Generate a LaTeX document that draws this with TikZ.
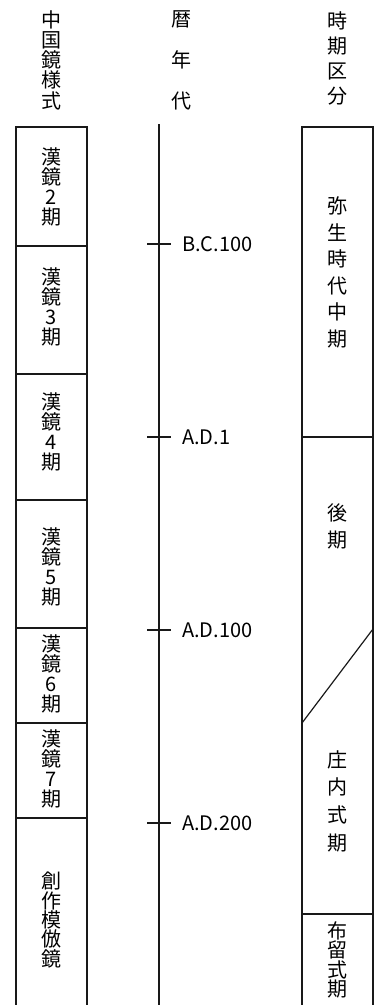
\documentclass[tikz,border=0pt]{standalone}
\usepackage{fontspec}
\newfontfamily\cjk{Noto Sans CJK JP}
\begin{document}
\begin{tikzpicture}[x=1pt,y=-1pt,
  frame/.style={line width=1.2pt, draw=black!90},
  vtext/.style={inner sep=0pt, align=center, text=black, font=\cjk\fontsize{20}{#1}\selectfont},
  yearlabel/.style={inner sep=0pt, anchor=west, text=black, font=\cjk\fontsize{20}{24}\selectfont}]
\useasboundingbox (0,0) rectangle (376,1005);
% left column
\coordinate (L0) at (16,127);
\coordinate (L1) at (87,127);
\draw[frame] (16,1005) -- (L0) -- (L1) -- (87,1005);
\foreach \yy in {246,374,500,628,723,818}{\draw[frame] (16,\yy) -- (87,\yy);}
% timeline
\coordinate (T0) at (159,124);
\coordinate (T1) at (159,1005);
\draw[frame] (T0) -- (T1);
\foreach \yy/\lab/\nm in {244/B.C.100/bc, 437/A.D.1/ad1, 630/A.D.100/ad100, 823/A.D.200/ad200}{
  \draw[frame] (147,\yy) -- (171,\yy);
  \node[yearlabel] (\nm) at (182,\yy) {\lab};
}
% right column
\draw[frame] (302,1005) -- (302,127) -- (373,127) -- (373,1005);
\draw[frame] (302,437) -- (373,437);
\draw[frame] (373,629) -- (302,723);
\draw[frame] (302,914) -- (373,914);
% headers
\node[vtext=20.25] (h1) at (51.5,60) {中\\国\\鏡\\様\\式};
\node[vtext=41] (h2) at (181,60) {暦\\年\\代};
\node[vtext=25] (h3) at (337.5,58) {時\\期\\区\\分};
% left boxes
\node[vtext=20] (k2) at (51.5,187) {漢\\鏡\\2\\期};
\node[vtext=20] (k3) at (51.5,307) {漢\\鏡\\3\\期};
\node[vtext=20] (k4) at (51.5,432) {漢\\鏡\\4\\期};
\node[vtext=20] (k5) at (51.5,567) {漢\\鏡\\5\\期};
\node[vtext=20] (k6) at (51.5,674) {漢\\鏡\\6\\期};
\node[vtext=20] (k7) at (51.5,769) {漢\\鏡\\7\\期};
\node[vtext=19.3] (ks) at (51.5,920) {創\\作\\模\\倣\\鏡};
% right boxes
\node[vtext=26.5] (r1) at (337.5,272.5) {弥\\生\\時\\代\\中\\期};
\node[vtext=27] (r2) at (337.5,526) {後\\期};
\node[vtext=27.7] (r3) at (337.5,801) {庄\\内\\式\\期};
\node[vtext=19.3] (r4) at (337.5,960) {布\\留\\式\\期};
\end{tikzpicture}
\end{document}
